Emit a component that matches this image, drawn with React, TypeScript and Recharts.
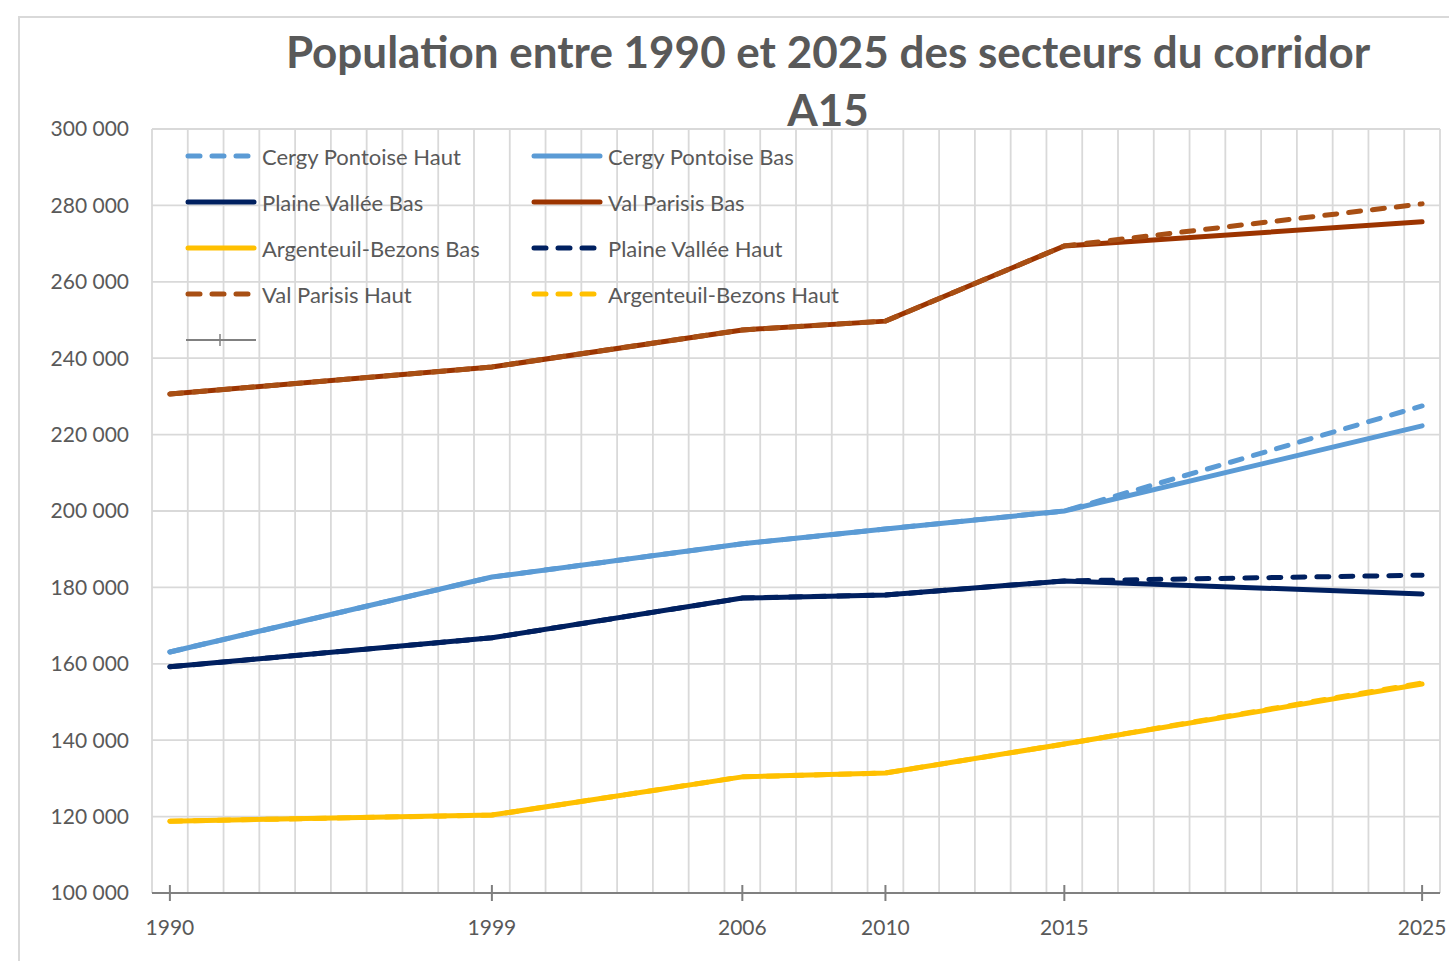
import React from 'react';
import { LineChart, Line, XAxis, YAxis, CartesianGrid } from 'recharts';

const years = [1990, 1999, 2006, 2010, 2015, 2025];
const yearTicks = [1990, 1999, 2006, 2010, 2015, 2025];
const valueTicks = [100000, 120000, 140000, 160000, 180000, 200000, 220000, 240000, 260000, 280000, 300000];

const cergyBas = [163100, 182700, 191400, 195300, 200000, 222300];
const cergyHaut = [163100, 182700, 191400, 195300, 200000, 227500];
const plaineBas = [159200, 166800, 177200, 178000, 181700, 178300];
const plaineHaut = [159200, 166800, 177200, 178000, 181700, 183200];
const valBas = [230600, 237700, 247400, 249700, 269400, 275700];
const valHaut = [230600, 237700, 247400, 249700, 269400, 280400];
const argBas = [118800, 120400, 130400, 131400, 139000, 154700];
const argHaut = [118800, 120400, 130400, 131400, 139000, 155000];

// one vertical gridline per year, between the years
const gridYears = Array.from({ length: 37 }, (_, i) => 1989.5 + i);

const data = years.map((year, i) => ({
  year,
  cergyBas: cergyBas[i],
  cergyHaut: cergyHaut[i],
  plaineBas: plaineBas[i],
  plaineHaut: plaineHaut[i],
  valBas: valBas[i],
  valHaut: valHaut[i],
  argBas: argBas[i],
  argHaut: argHaut[i],
}));

const BLUE = '#5b9bd5';
const NAVY = '#002060';
const BROWN = '#9c3400';
const BROWN_LIGHT = '#a84f14';
const YELLOW = '#ffc000';
const DASH = '12 12';
const LW = 5;
const FONT = 'Lato, "Open Sans", sans-serif';
const TEXT = '#595959';

const legendItems = [
  { name: 'Cergy Pontoise Haut', color: BLUE, dashed: true },
  { name: 'Cergy Pontoise Bas', color: BLUE, dashed: false },
  { name: 'Plaine Vallée Bas', color: NAVY, dashed: false },
  { name: 'Val Parisis Bas', color: BROWN, dashed: false },
  { name: 'Argenteuil-Bezons Bas', color: YELLOW, dashed: false },
  { name: 'Plaine Vallée Haut', color: NAVY, dashed: true },
  { name: 'Val Parisis Haut', color: BROWN_LIGHT, dashed: true },
  { name: 'Argenteuil-Bezons Haut', color: YELLOW, dashed: true },
];

const fmt = (v: number) => String(v).replace(/\B(?=(\d{3})+(?!\d))/g, ' ');

const YearTick = (props: any) => {
  const { x, y, payload } = props;
  return (
    <g>
      <line x1={x} x2={x} y1={y - 8} y2={y + 8} stroke="#7f7f7f" strokeWidth={2} />
      <text x={x} y={y + 42} textAnchor="middle" fill={TEXT} fontSize={21} fontFamily={FONT}>
        {payload.value}
      </text>
    </g>
  );
};

const ChartLegend = () => (
  <div
    style={{
      position: 'absolute',
      left: 182,
      top: 133,
      display: 'flex',
      flexWrap: 'wrap',
      width: 692,
      fontFamily: FONT,
      fontSize: 22,
      color: TEXT,
      zIndex: 2,
    }}
  >
    {legendItems.map((item) => (
      <div key={item.name} style={{ width: 346, height: 46, display: 'flex', alignItems: 'center' }}>
        <svg width={80} height={20}>
          <line
            x1={6}
            x2={72}
            y1={10}
            y2={10}
            stroke={item.color}
            strokeWidth={LW}
            strokeLinecap="round"
            strokeDasharray={item.dashed ? DASH : undefined}
          />
        </svg>
        <span>{item.name}</span>
      </div>
    ))}
    <div style={{ width: 346, height: 46, display: 'flex', alignItems: 'center' }}>
      <svg width={80} height={20}>
        <line x1={4} x2={74} y1={10} y2={10} stroke="#808080" strokeWidth={2} />
        <line x1={38} x2={38} y1={4} y2={16} stroke="#808080" strokeWidth={1.5} />
      </svg>
    </div>
  </div>
);

const App: React.FC = () => {
  return (
    <div style={{ position: 'absolute', left: 0, top: 0, width: 1449, height: 961, background: '#fff', overflow: 'hidden' }}>
      <div
        style={{
          position: 'absolute',
          left: 18,
          top: 16,
          width: 1460,
          height: 980,
          border: '2px solid #d9d9d9',
        }}
      />
      <LineChart
        width={1449}
        height={961}
        data={data}
        margin={{ top: 129, right: 9, bottom: 0, left: 0 }}
        style={{ position: 'absolute', left: 0, top: 0 }}
      >
        <CartesianGrid stroke="#d9d9d9" strokeWidth={1.8} verticalValues={gridYears} />
        <XAxis
          dataKey="year"
          type="number"
          domain={[1989.5, 2025.5]}
          ticks={yearTicks}
          interval={0}
          tick={<YearTick />}
          tickLine={false}
          tickSize={0}
          tickMargin={0}
          axisLine={{ stroke: '#808080', strokeWidth: 2 }}
          height={68}
        />
        <YAxis
          domain={[100000, 300000]}
          ticks={valueTicks}
          interval={0}
          tickFormatter={fmt}
          axisLine={false}
          tickLine={false}
          tickSize={0}
          tickMargin={23}
          width={152}
          tick={{ fill: TEXT, fontSize: 21, fontFamily: FONT }}
        />
        <Line dataKey="argBas" stroke={YELLOW} strokeWidth={LW} dot={false} strokeLinecap="round" isAnimationActive={false} />
        <Line dataKey="plaineBas" stroke={NAVY} strokeWidth={LW} dot={false} strokeLinecap="round" isAnimationActive={false} />
        <Line dataKey="cergyBas" stroke={BLUE} strokeWidth={LW} dot={false} strokeLinecap="round" isAnimationActive={false} />
        <Line dataKey="valBas" stroke={BROWN} strokeWidth={LW} dot={false} strokeLinecap="round" isAnimationActive={false} />
        <Line dataKey="argHaut" stroke={YELLOW} strokeWidth={LW} strokeDasharray={DASH} dot={false} strokeLinecap="round" isAnimationActive={false} />
        <Line dataKey="plaineHaut" stroke={NAVY} strokeWidth={LW} strokeDasharray={DASH} dot={false} strokeLinecap="round" isAnimationActive={false} />
        <Line dataKey="cergyHaut" stroke={BLUE} strokeWidth={LW} strokeDasharray={DASH} dot={false} strokeLinecap="round" isAnimationActive={false} />
        <Line dataKey="valHaut" stroke={BROWN_LIGHT} strokeWidth={LW} strokeDasharray={DASH} dot={false} strokeLinecap="round" isAnimationActive={false} />
      </LineChart>
      <ChartLegend />
      <div
        style={{
          position: 'absolute',
          left: 228,
          top: 22,
          width: 1200,
          textAlign: 'center',
          fontFamily: FONT,
          fontWeight: 700,
          fontSize: 44,
          lineHeight: '58px',
          color: TEXT,
          zIndex: 3,
        }}
      >
        Population entre 1990 et 2025 des secteurs du corridor
        <br />
        A15
      </div>
    </div>
  );
};

export default App;
